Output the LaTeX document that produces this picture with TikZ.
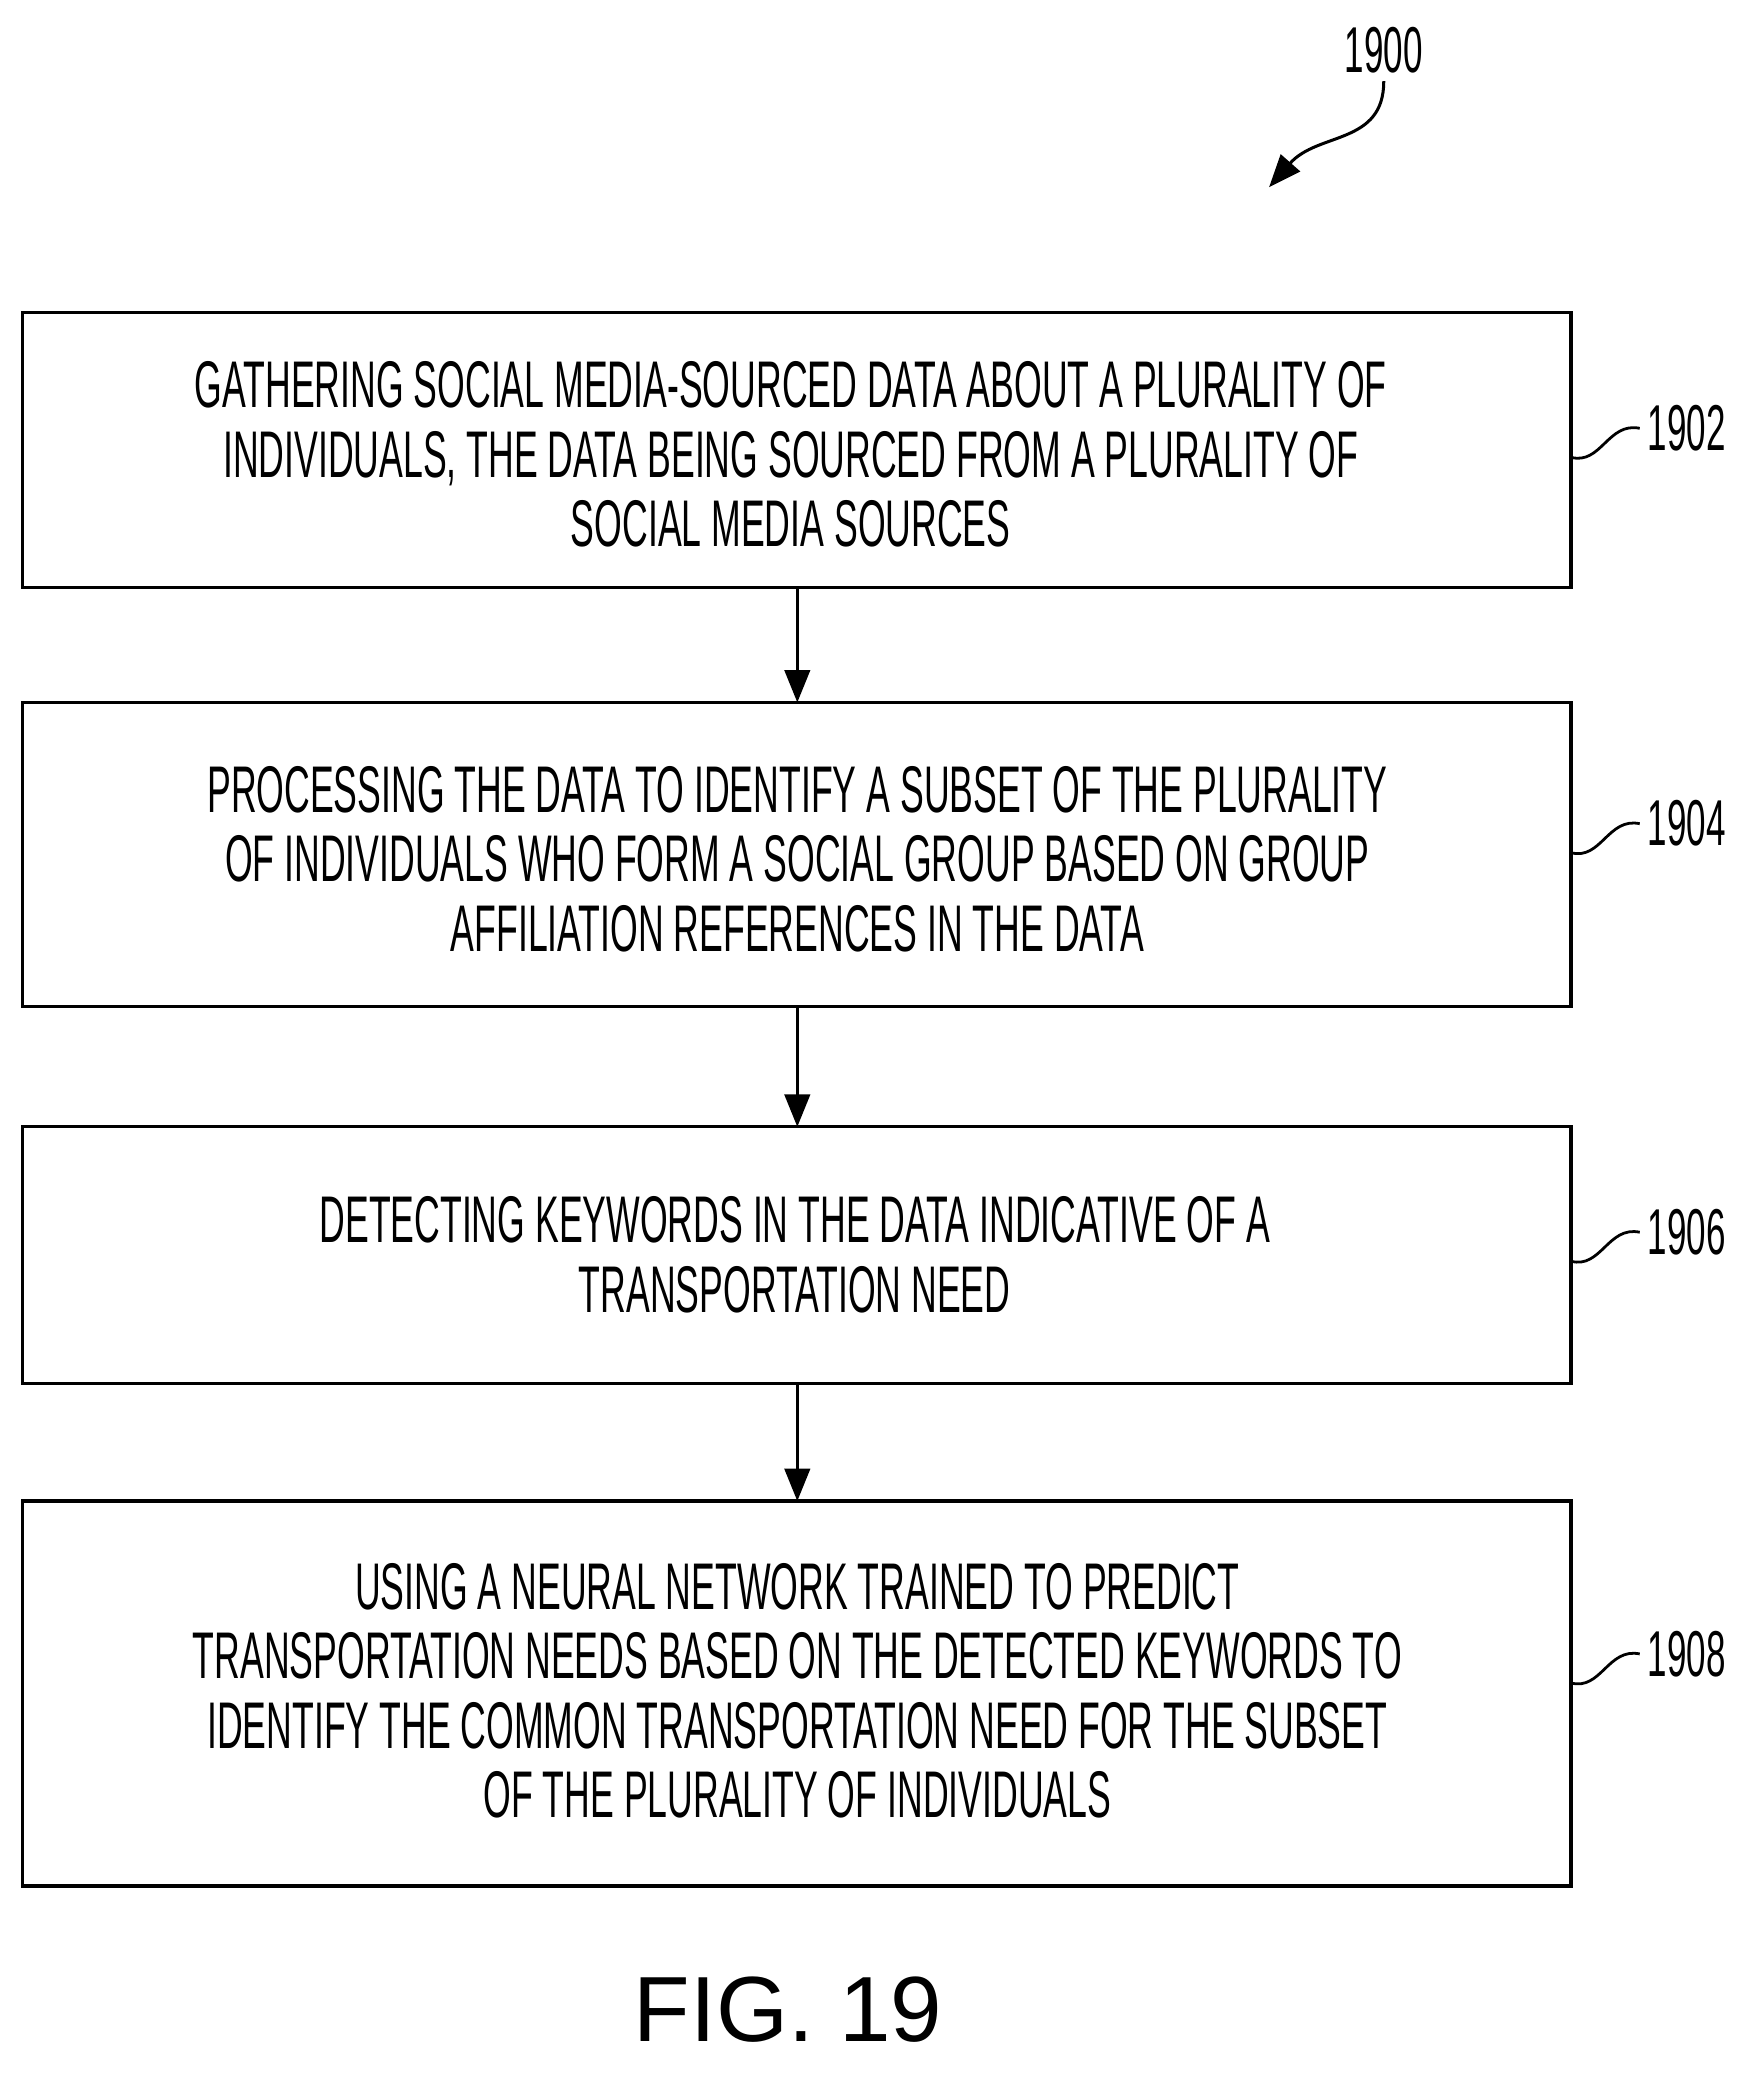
\documentclass[tikz,border=0pt]{standalone}
\usepackage{fontspec}
\setmainfont{Liberation Sans}
\newfontfamily\stepfont[FakeStretch=0.54]{Liberation Sans}
\usetikzlibrary{arrows.meta}
\tikzset{
  stepbox/.style={draw, line width=1.4pt},
  steptext/.style={align=center, font=\stepfont\fontsize{28.5}{30}\selectfont},
  reftext/.style={font=\stepfont\fontsize{28}{30}\selectfont},
  flow/.style={-{Triangle[length=14pt,width=11pt]}, line width=1.3pt},
}
\begin{document}
\begin{tikzpicture}[x=0.02cm, y=-0.02cm]
  \useasboundingbox (0,0) rectangle (1330,1573);
  % boxes
  \draw[stepbox] (17,237) rectangle (1192,446);
  \draw[stepbox] (17,533) rectangle (1192,764);
  \draw[stepbox] (17,855) rectangle (1192,1050);
  \draw[stepbox] (17,1139) rectangle (1192,1431);
  \node[steptext] (s1902) at (600,345) {GATHERING SOCIAL MEDIA-SOURCED DATA ABOUT A PLURALITY OF\\INDIVIDUALS, THE DATA BEING SOURCED FROM A PLURALITY OF\\SOCIAL MEDIA SOURCES};
  \node[steptext] (s1904) at (605,652) {PROCESSING THE DATA TO IDENTIFY A SUBSET OF THE PLURALITY\\OF INDIVIDUALS WHO FORM A SOCIAL GROUP BASED ON GROUP\\AFFILIATION REFERENCES IN THE DATA};
  \node[steptext] (s1906) at (603,952) {DETECTING KEYWORDS IN THE DATA INDICATIVE OF A\\TRANSPORTATION NEED};
  \node[steptext] (s1908) at (605,1283) {USING A NEURAL NETWORK TRAINED TO PREDICT\\TRANSPORTATION NEEDS BASED ON THE DETECTED KEYWORDS TO\\IDENTIFY THE COMMON TRANSPORTATION NEED FOR THE SUBSET\\OF THE PLURALITY OF INDIVIDUALS};
  % connectors
  \coordinate (b1) at (605,446); \coordinate (t2) at (605,533);
  \coordinate (b2) at (605,764); \coordinate (t3) at (605,855);
  \coordinate (b3) at (605,1050); \coordinate (t4) at (605,1139);
  \draw[flow] (b1) -- (t2);
  \draw[flow] (b2) -- (t3);
  \draw[flow] (b3) -- (t4);
  % reference labels
  \foreach \lab/\y in {1902/325, 1904/625, 1906/935, 1908/1255} {
    \node[reftext] (r\lab) at (1280,\y) {\lab};
    \draw[line width=1.2pt] (1192,\y+22) .. controls (1215,\y+28) and (1220,\y-5) .. (r\lab.west);
  }
  \node[reftext] (r1900) at (1050,38) {1900};
  \coordinate (a1900) at (963,142);
  \draw[flow] (r1900.south) .. controls (1050,110) and (1000,100) .. (a1900);
  \node[font=\fontsize{40}{44}\selectfont] (fig) at (598,1525) {FIG. 19};
\end{tikzpicture}
\end{document}
